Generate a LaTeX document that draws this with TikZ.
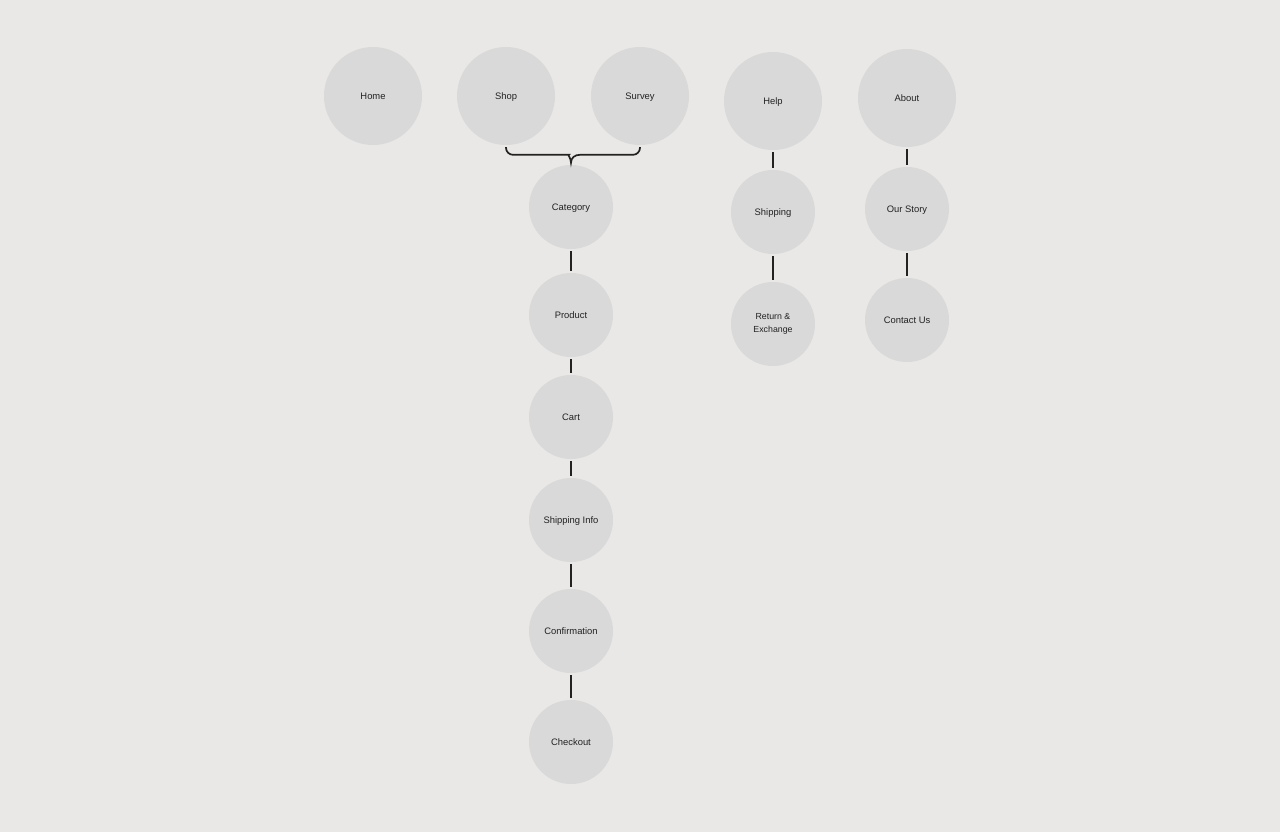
\documentclass[tikz,border=0pt]{standalone}
\usepackage{fontspec}
\setmainfont{Liberation Sans}
\usetikzlibrary{calc}
\definecolor{bg}{HTML}{E9E8E6}
\definecolor{circ}{HTML}{D9D9D9}
\definecolor{ink}{HTML}{222222}
\begin{document}
\begin{tikzpicture}[x=1pt,y=-1pt,
  bubble/.style={circle,fill=circ,inner sep=0pt,text=ink,font=\fontsize{9.4}{11}\selectfont,text height=8.8pt,text depth=1.6pt},
  big/.style={bubble,minimum size=98pt},
  small/.style={bubble,minimum size=84pt},
  link/.style={draw=ink,line width=2pt,shorten >=2pt,shorten <=2pt}]
\fill[bg] (0,0) rectangle (1280,832);
\useasboundingbox (0,0) rectangle (1280,832);
\node[big] (home) at (373,96) {Home};
\node[big] (shop) at (506,96) {Shop};
\node[big] (survey) at (640,96) {Survey};
\node[big] (help) at (773,101) {Help};
\node[big] (about) at (907,98) {About};
\node[small] (category) at (571,207) {Category};
\node[small] (product) at (571,315) {Product};
\node[small] (cart) at (571,417) {Cart};
\node[small] (shipinfo) at (571,520) {Shipping Info};
\node[small] (confirm) at (571,631) {Confirmation};
\node[small] (checkout) at (571,742) {Checkout};
\node[small] (shipping) at (773,212) {Shipping};
\node[small,text height=,text depth=,align=center,font=\fontsize{8.8}{13.5}\selectfont] (return) at (773,324) {Return \&\\Exchange};
\node[small] (story) at (907,209) {Our Story};
\node[small] (contact) at (907,320) {Contact Us};
\draw[link] (category) -- (product);
\draw[link] (product) -- (cart);
\draw[link] (cart) -- (shipinfo);
\draw[link] (shipinfo) -- (confirm);
\draw[link] (confirm) -- (checkout);
\draw[link] (help) -- (shipping);
\draw[link] (shipping) -- (return);
\draw[link] (about) -- (story);
\draw[link] (story) -- (contact);
\coordinate (bl) at ($(shop.south)+(0,2)$);
\coordinate (br) at ($(survey.south)+(0,2)$);
\coordinate (bc) at ($(category.north)+(0,-2)$);
\draw[draw=ink,line width=1.7pt,rounded corners=7pt]
  (bl) -- ($(bl |- bc)+(0,-8)$) -- ($(bc)+(-9,-8)$) [sharp corners] to[out=0,in=90,looseness=1.1] (bc)
  to[out=90,in=180,looseness=1.1] ($(bc)+(9,-8)$) [rounded corners=7pt] -- ($(br |- bc)+(0,-8)$) -- (br);
\end{tikzpicture}
\end{document}
